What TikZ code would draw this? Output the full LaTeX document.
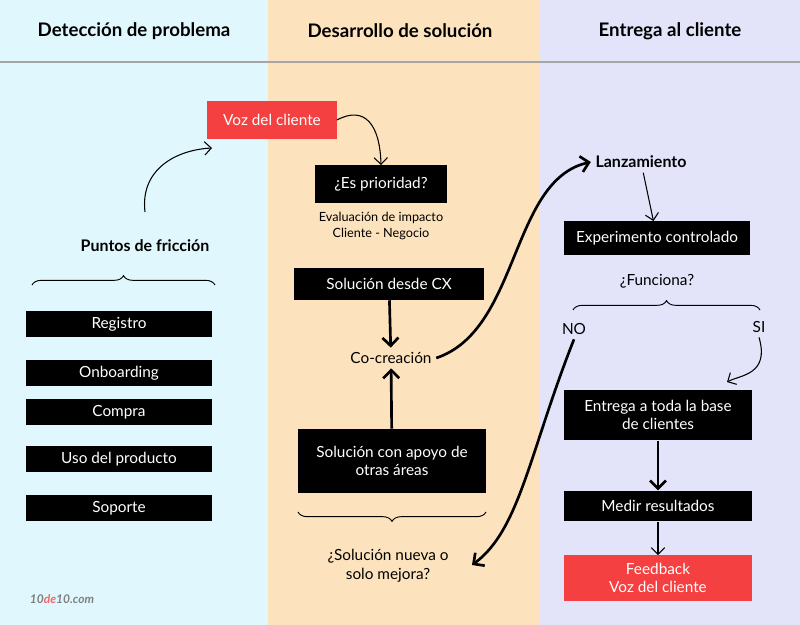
\documentclass[tikz,border=0pt]{standalone}
\usepackage{fontspec}
\setmainfont{Lato}
\usetikzlibrary{arrows.meta,decorations.pathreplacing}
\definecolor{colA}{HTML}{E0F8FD}
\definecolor{colB}{HTML}{FDE3BD}
\definecolor{colC}{HTML}{E3E3FA}
\definecolor{vozred}{HTML}{F44040}
\tikzset{
  blk/.style={fill=black,text=white,font=\fontsize{11.5}{14}\selectfont,inner sep=0pt,align=center},
  rd/.style={fill=vozred,text=white,font=\fontsize{11.5}{13}\selectfont,inner sep=0pt,align=center},
  txt/.style={font=\fontsize{11.5}{14}\selectfont,align=center},
  hd/.style={font=\bfseries\fontsize{14}{16}\selectfont},
  thin arr/.style={-{Straight Barb[length=5pt]},line width=0.8pt},
  thick arr/.style={-{Straight Barb[length=6pt]},line width=2pt},
  brc/.style={decorate,decoration={brace,amplitude=7pt},line width=0.7pt}
}
\begin{document}
\begin{tikzpicture}[x=0.75pt,y=-0.75pt]
\useasboundingbox (0,0) rectangle (800,625);
% background columns
\fill[colA] (0,0) rectangle (268,625);
\fill[colB] (268,0) rectangle (540,625);
\fill[colC] (540,0) rectangle (800,625);
\draw[gray!70,line width=1pt] (0,62) -- (800,62);
\node[hd] (h1) at (134,31) {Detección de problema};
\node[hd] (h2) at (400,31) {Desarrollo de solución};
\node[hd] (h3) at (670,31) {Entrega al cliente};
% left column
\node[hd,font=\bfseries\fontsize{12}{14}\selectfont] (fric) at (145,246) {Puntos de fricción};
\draw[brc] (32,285) -- (215,285);
\foreach \name/\lab/\y in {reg/Registro/324,onb/Onboarding/373,com/Compra/412,uso/Uso del producto/459,sop/Soporte/508}
  \node[blk,minimum width=140pt,minimum height=19.5pt] (\name) at (119,\y) {\lab};
\coordinate (fa) at (145,212);
\coordinate (fb) at (212,148);
\draw[thin arr] (fa) .. controls (140,170) and (175,150) .. (fb);
% middle column
\node[rd,minimum width=97pt,minimum height=28pt] (voz) at (272,120) {Voz del cliente};
\node[blk,minimum width=99pt,minimum height=28pt] (prio) at (381,184) {¿Es prioridad?};
\node[font=\fontsize{9.5}{11.5}\selectfont,align=center] (eval) at (381,226) {Evaluación de impacto\\Cliente - Negocio};
\draw[thin arr] (voz.east) .. controls (365,105) and (380,125) .. (prio.north);
\node[blk,minimum width=142pt,minimum height=24pt] (cx) at (389,284) {Solución desde CX};
\node[txt] (cocre) at (391,358) {Co-creación};
\node[blk,minimum width=141pt,minimum height=48pt] (apoyo) at (392,461) {Solución con apoyo de\\otras áreas};
\draw[thick arr] (cx) -- (cocre);
\draw[thick arr] (apoyo) -- (cocre);
\draw[brc] (486,512) -- (298,512);
\node[txt] (nueva) at (388,566) {¿Solución nueva o\\solo mejora?};
% right column
\node[hd,font=\bfseries\fontsize{12}{14}\selectfont] (lanz) at (641,162) {Lanzamiento};
\draw[thick arr] (cocre.east) .. controls (520,330) and (510,180) .. (lanz.west);
\node[blk,minimum width=140pt,minimum height=25pt] (exp) at (657,238) {Experimento controlado};
\draw[thin arr] (lanz) -- (exp);
\node[txt] (func) at (657,281) {¿Funciona?};
\draw[brc] (573,310) -- (760,310);
\node[txt] (no) at (574,329) {NO};
\node[txt] (si) at (759,327) {SI};
\node[blk,minimum width=141pt,minimum height=38pt] (ent) at (658,415) {Entrega a toda la base\\de clientes};
\node[blk,minimum width=141pt,minimum height=23pt] (med) at (658,506) {Medir resultados};
\node[rd,minimum width=141pt,minimum height=34pt] (feed) at (658,578) {Feedback\\Voz del cliente};
\draw[thin arr] (si.south) .. controls (770,375) and (740,375) .. (727,382);
\draw[thick arr] (ent) -- (med);
\draw[thin arr] (med) -- (feed);
\draw[thick arr] (no.south) .. controls (530,450) and (520,530) .. (472,565);
% logo
\node[font=\itshape\bfseries\fontsize{9}{11}\selectfont,text=gray] (logo) at (62,599) {10\textcolor{vozred!80}{de}10.com};
\end{tikzpicture}
\end{document}
